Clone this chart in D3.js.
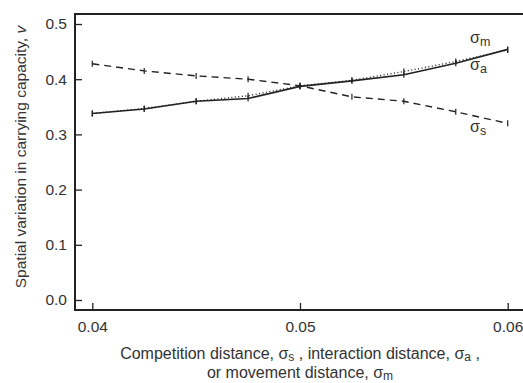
<!DOCTYPE html>
<html>
<head>
<meta charset="utf-8">
<script src="https://cdn.jsdelivr.net/npm/d3@7"></script>
<style>
  body { margin: 0; background: #fff; }
  svg { font-family: "Liberation Sans", Arial, sans-serif; }
</style>
</head>
<body>
<svg id="chart" width="523" height="383"></svg>
<script>
const distances = [0.04, 0.0425, 0.045, 0.0475, 0.05, 0.0525, 0.055, 0.0575, 0.06];
const sigmaS = [0.428, 0.415, 0.406, 0.400, 0.388, 0.368, 0.360, 0.341, 0.320];
const sigmaA = [0.338, 0.347, 0.360, 0.370, 0.388, 0.398, 0.414, 0.432, 0.453];
const sigmaM = [0.338, 0.346, 0.360, 0.365, 0.387, 0.397, 0.408, 0.429, 0.454];
const xTicks = [0.04, 0.05, 0.06];
const yTicks = [0, 0.1, 0.2, 0.3, 0.4, 0.5];

const svg = d3.select("#chart");
const ink = "#222";
const textInk = "#333";

const x = d3.scaleLinear().domain([0.04, 0.06]).range([92.3, 507.7]);
const y = d3.scaleLinear().domain([0, 0.5]).range([300, 24]);

const frameL = 75, frameT = 14, frameB = 310, frameR = 530;

// frame
svg.append("path")
  .attr("d", `M${frameR},${frameT}H${frameL}V${frameB}H${frameR}`)
  .attr("fill", "none")
  .attr("stroke", ink)
  .attr("stroke-width", 2);

// y axis
const yAxis = svg.append("g").attr("transform", `translate(${frameL},0)`)
  .call(d3.axisRight(y).tickValues(yTicks).tickSize(7).tickFormat(d3.format(".1f")));
yAxis.select(".domain").remove();
yAxis.selectAll("line").attr("stroke", ink).attr("stroke-width", 1.3);
yAxis.selectAll("text")
  .attr("x", -8).attr("text-anchor", "end")
  .attr("font-size", 15.5).attr("fill", textInk);

// x axis
const xAxis = svg.append("g").attr("transform", `translate(0,${frameB})`)
  .call(d3.axisTop(x).tickValues(xTicks).tickSize(7).tickFormat(d3.format(".2f")));
xAxis.select(".domain").remove();
xAxis.selectAll("line").attr("stroke", ink).attr("stroke-width", 1.3);
xAxis.selectAll("text")
  .attr("y", 22).attr("dy", null)
  .attr("font-size", 15.5).attr("fill", textInk);

const line = d3.line().x((d, i) => x(distances[i])).y(d => y(d));

const series = [
  { vals: sigmaS, dash: "7,5", width: 1.4 },
  { vals: sigmaA, dash: "1,2.5", width: 1.4 },
  { vals: sigmaM, dash: null, width: 1.6 }
];

series.forEach(s => {
  svg.append("path")
    .datum(s.vals)
    .attr("d", line)
    .attr("fill", "none")
    .attr("stroke", ink)
    .attr("stroke-width", s.width)
    .attr("stroke-dasharray", s.dash);
  svg.selectAll(null)
    .data(s.vals)
    .enter().append("line")
    .attr("x1", (d, i) => x(distances[i]))
    .attr("x2", (d, i) => x(distances[i]))
    .attr("y1", d => y(d) - 3)
    .attr("y2", d => y(d) + 3)
    .attr("stroke", ink)
    .attr("stroke-width", 1.2);
});

// series labels
const labels = [
  { sub: "m", v: sigmaM[8], dy: -6 },
  { sub: "a", v: sigmaA[8], dy: 20 },
  { sub: "s", v: sigmaS[8], dy: 9 }
];
labels.forEach(l => {
  const t = svg.append("text")
    .attr("x", 470)
    .attr("y", y(l.v) + l.dy)
    .attr("font-size", 16)
    .attr("fill", textInk);
  t.append("tspan").text("σ");
  t.append("tspan").attr("font-size", 12.5).attr("dy", 3).text(l.sub);
});

// axis titles
const yTitle = svg.append("text")
  .attr("transform", "translate(26,157) rotate(-90)")
  .attr("text-anchor", "middle")
  .attr("font-size", 15.5)
  .attr("fill", textInk);
yTitle.append("tspan").text("Spatial variation in carrying capacity, ");
yTitle.append("tspan").attr("font-style", "italic").text("v");

const xTitle1 = svg.append("text")
  .attr("x", 300).attr("y", 359)
  .attr("text-anchor", "middle")
  .attr("font-size", 16)
  .attr("fill", textInk);
xTitle1.append("tspan").text("Competition distance, σ");
xTitle1.append("tspan").attr("font-size", 12).attr("dy", 2).text("s");
xTitle1.append("tspan").attr("dy", -2).text(" , interaction distance, σ");
xTitle1.append("tspan").attr("font-size", 12).attr("dy", 2).text("a");
xTitle1.append("tspan").attr("dy", -2).text(" ,");

const xTitle2 = svg.append("text")
  .attr("x", 300).attr("y", 378)
  .attr("text-anchor", "middle")
  .attr("font-size", 16)
  .attr("fill", textInk);
xTitle2.append("tspan").text("or movement distance, σ");
xTitle2.append("tspan").attr("font-size", 12).attr("dy", 2).text("m");
</script>
</body>
</html>
